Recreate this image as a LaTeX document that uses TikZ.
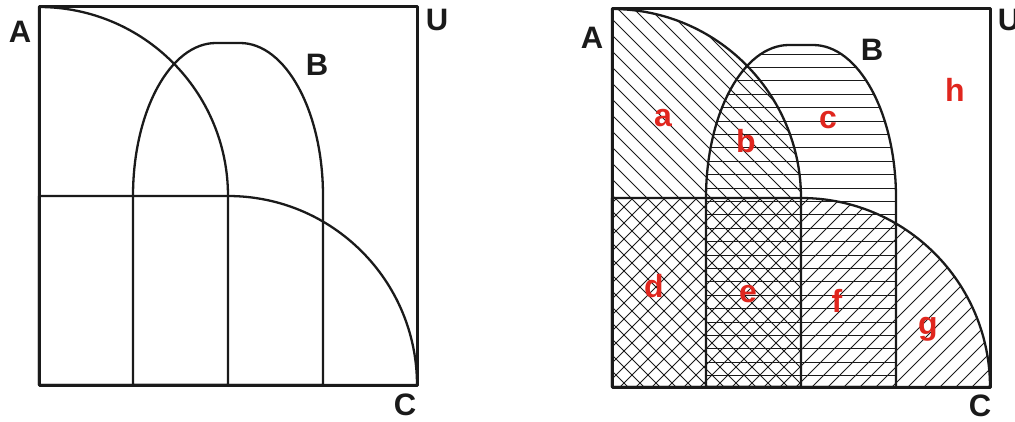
\documentclass[tikz,border=0pt]{standalone}
\usepackage{fontspec}
\setmainfont{Liberation Sans}
\newcommand{\Unit}{1pt}
\newcommand{\Side}{378}
\newcommand{\Gap}{16}
\newcommand{\Row}{13.4}
\definecolor{ink}{HTML}{1A1A1A}
\definecolor{inkred}{HTML}{E0261E}
% the three sets, in the square's own frame (origin at its lower left corner)
\newcommand{\SetA}{(0,0) -- (0,378) arc[start angle=90,end angle=0,radius=189] -- (189,0) -- cycle}
\newcommand{\SetB}{(94,0) -- (94,189) arc[start angle=180,end angle=90,x radius=83,y radius=153]
  -- (201,342) arc[start angle=90,end angle=0,x radius=83,y radius=153] -- (284,0) -- cycle}
\newcommand{\SetC}{(0,0) -- (0,189) -- (189,189) arc[start angle=90,end angle=0,radius=189] -- cycle}

\begin{document}
\begin{tikzpicture}[x=\Unit,y=\Unit, line join=round, line cap=round,
  frame/.style={ink,line width=3pt},
  rim/.style={ink,line width=2.3pt},
  hatch/.style={ink,line width=0.8pt},
  setname/.style={font=\fontsize{31}{31}\selectfont\bfseries,text=ink,inner sep=0pt,anchor=base},
  regname/.style={font=\fontsize{32}{32}\selectfont\bfseries,text=inkred,inner sep=0pt,anchor=base}]

  \useasboundingbox (0,0) rectangle (1015,421);

  % ---- left square: the sets alone ----------------------------------------
  \begin{scope}[shift={(39,36)}]
    \draw[rim] \SetA;
    \draw[rim] \SetB;
    \draw[rim] \SetC;
    \draw[frame] (0,0) rectangle (\Side,\Side);
  \end{scope}

  \node[setname] (leftA) at (20,378) {A};
  \node[setname] (leftU) at (437,390) {U};
  \node[setname] (leftB) at (317,345) {B};
  \node[setname] (leftC) at (405,6) {C};

  % ---- right square: one hatch per set, overlaps come for free -----------
  \begin{scope}[shift={(612,34)}]
    \begin{scope}
      \clip \SetA;
      \foreach \c in {0,\Gap,...,480} { \draw[hatch] (\c,0) -- ++(-420,420); }
    \end{scope}
    \begin{scope}
      \clip \SetC;
      \foreach \c in {-200,-184,...,380} { \draw[hatch] (\c,0) -- ++(420,420); }
    \end{scope}
    \begin{scope}
      \clip \SetB;
      \foreach \k in {0,...,24} { \draw[hatch] (0,{333-\k*\Row}) -- (\Side,{333-\k*\Row}); }
    \end{scope}
    \draw[rim] \SetA;
    \draw[rim] \SetB;
    \draw[rim] \SetC;
    \draw[frame] (0,0) rectangle (\Side,\Side);
  \end{scope}

  \node[setname] (rightA) at (592,372) {A};
  \node[setname] (rightU) at (1009,390) {U};
  \node[setname] (rightB) at (872,360) {B};
  \node[setname] (rightC) at (980,5) {C};

  % region letters
  \node[regname] (ra) at (663,294) {a};
  \node[regname] (rb) at (746,268) {b};
  \node[regname] (rc) at (828,292) {c};
  \node[regname] (rh) at (955,319) {h};
  \node[regname] (rd) at (654,124) {d};
  \node[regname] (re) at (748,119) {e};
  \node[regname] (rf) at (837,109) {f};
  \node[regname] (rg) at (928,87) {g};

\end{tikzpicture}
\end{document}
